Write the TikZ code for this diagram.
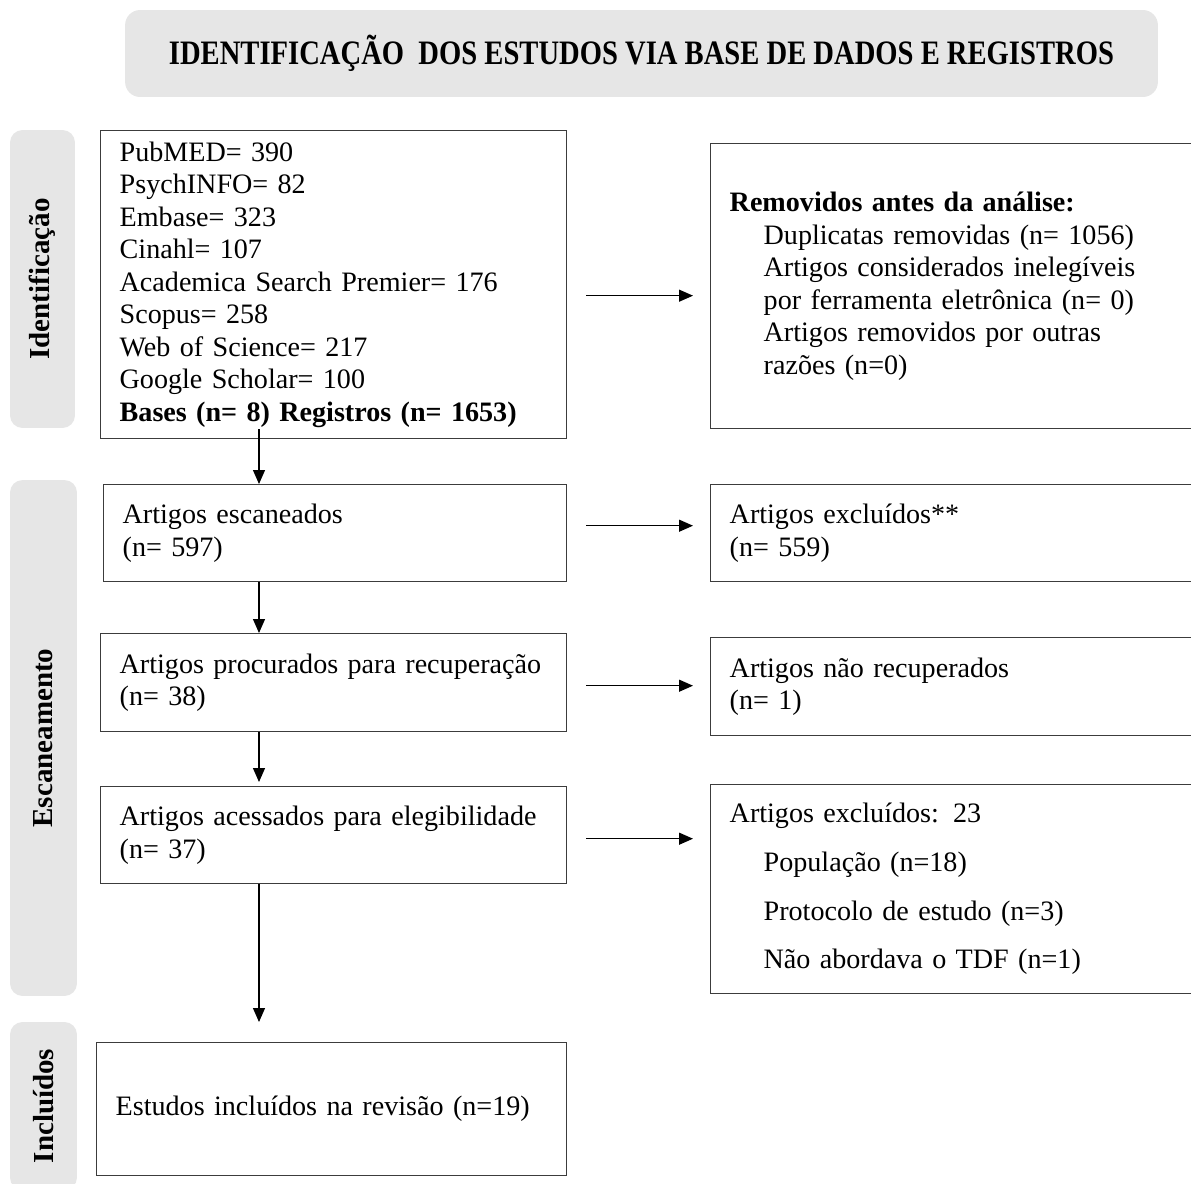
\documentclass[tikz,border=0pt]{standalone}
\usepackage{fontspec}
\setmainfont{Liberation Serif}
\usetikzlibrary{arrows.meta}
\definecolor{bandgray}{HTML}{E6E6E6}
\definecolor{linegray}{HTML}{3C3C3C}

\begin{document}
\begin{tikzpicture}[x=0.02cm,y=-0.02cm,
	font=\fontsize{16}{18.5}\selectfont,
	flowbox/.style={draw=linegray,line width=0.8pt,rectangle,anchor=north west,inner xsep=0.38cm,inner ysep=0pt,align=left},
	band/.style={fill=bandgray,rounded corners=0.25cm,rotate=90,inner sep=0pt,font=\fontsize{16.5}{18.5}\selectfont\bfseries},
	arr/.style={-{Triangle[length=0.28cm,width=0.24cm]},line width=0.7pt}]

	\useasboundingbox (0,0) rectangle (1191,1184);
	\clip (0,0) rectangle (1191,1184);

	\node[fill=bandgray,rounded corners=0.3cm,minimum width=20.66cm,minimum height=1.74cm] (title) at (641.5,53.5)
		{\fontsize{19.5}{22}\selectfont\bfseries\scalebox{0.835}[1]{IDENTIFICAÇÃO\ \ DOS ESTUDOS VIA BASE DE DADOS E REGISTROS}};

	\node[band,minimum width=5.96cm,minimum height=1.3cm] (sideid) at (42.5,279) {Identificação};
	\node[band,minimum width=10.32cm,minimum height=1.34cm] (sidescan) at (43.5,738) {Escaneamento};
	\node[band,minimum width=3.36cm,minimum height=1.34cm] (sideinc) at (43.5,1106) {Incluídos};

	\begin{scope}[every node/.style={flowbox}]
		\node[text width=8.56cm,minimum height=6.16cm] (bases) at (100,130)
			{PubMED= 390\\PsychINFO= 82\\Embase= 323\\Cinahl= 107\\Academica Search Premier= 176\\Scopus= 258\\Web of Science= 217\\Google Scholar= 100\\\textbf{Bases (n= 8) Registros (n= 1653)}};
		\node[text width=8.50cm,minimum height=1.94cm] (scanned) at (103,484) {Artigos escaneados\\(n= 597)};
		\node[text width=8.56cm,minimum height=1.96cm] (sought) at (100,633) {Artigos procurados para recuperação\\(n= 38)};
		\node[text width=8.56cm,minimum height=1.94cm] (assessed) at (100,786) {Artigos acessados para elegibilidade\\(n= 37)};
		\node[text width=8.64cm,minimum height=2.66cm] (included) at (96,1042) {Estudos incluídos na revisão (n=19)};

		\node[text width=9.24cm,minimum height=5.7cm] (removed) at (710,143)
			{\textbf{Removidos antes da análise:}\\
			\hspace*{0.68cm}Duplicatas removidas (n= 1056)\\
			\hspace*{0.68cm}Artigos considerados inelegíveis\\
			\hspace*{0.68cm}por ferramenta eletrônica (n= 0)\\
			\hspace*{0.68cm}Artigos removidos por outras\\
			\hspace*{0.68cm}razões (n=0)};
		\node[text width=9.24cm,minimum height=1.94cm] (excluded) at (710,484) {Artigos excluídos**\\(n= 559)};
		\node[text width=9.24cm,minimum height=1.96cm] (notfound) at (710,637) {Artigos não recuperados\\(n= 1)};
		\node[text width=9.24cm,minimum height=4.18cm] (reasons) at (710,784)
			{Artigos excluídos: 23\\[9.2pt]
			\hspace*{0.68cm}População (n=18)\\[9.2pt]
			\hspace*{0.68cm}Protocolo de estudo (n=3)\\[9.2pt]
			\hspace*{0.68cm}Não abordava o TDF (n=1)};
	\end{scope}

	\coordinate (spine) at (259,0);

	\draw[arr,shorten <=-0.2cm] (bases.south -| spine) -- (scanned.north -| spine);
	\draw[arr] (scanned.south -| spine) -- (sought.north -| spine);
	\draw[arr,shorten >=0.08cm] (sought.south -| spine) -- (assessed.north -| spine);
	\draw[arr,shorten >=0.4cm] (assessed.south -| spine) -- (included.north -| spine);

	\begin{scope}[shorten <=0.38cm,shorten >=0.34cm]
		\draw[arr] ([yshift=-0.22cm]bases.east) -- ([yshift=-0.22cm]bases.east -| removed.west);
		\draw[arr] ([yshift=0.15cm]scanned.east) -- ([yshift=0.15cm]scanned.east -| excluded.west);
		\draw[arr] ([yshift=-0.06cm]sought.east) -- ([yshift=-0.06cm]sought.east -| notfound.west);
		\draw[arr] ([yshift=-0.07cm]assessed.east) -- ([yshift=-0.07cm]assessed.east -| reasons.west);
	\end{scope}

\end{tikzpicture}
\end{document}
